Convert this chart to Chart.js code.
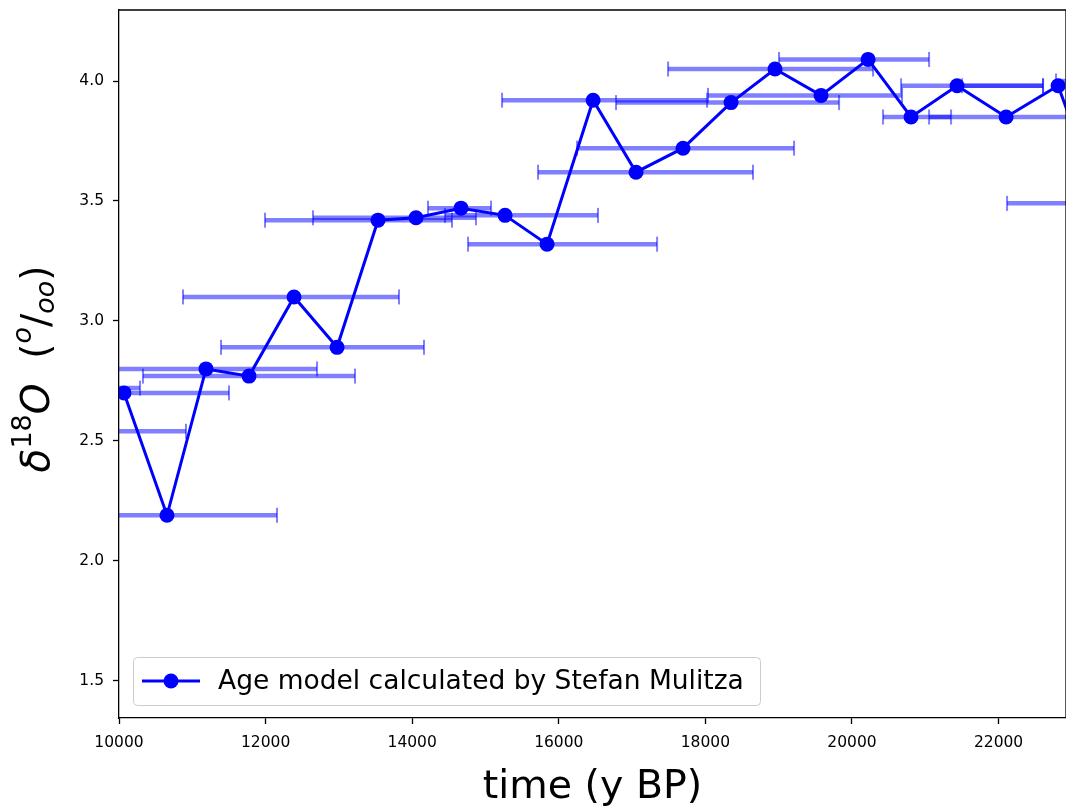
<!DOCTYPE html>
<html>
<head>
<meta charset="utf-8">
<script src="https://cdn.jsdelivr.net/npm/chart.js@4.4.0/dist/chart.umd.min.js"></script>
<style>
  html, body { margin: 0; padding: 0; background: #fff; overflow: hidden; }
  #wrap { width: 1066px; height: 808px; }
</style>
</head>
<body>
<div id="wrap"><canvas id="myChart" width="1066" height="808"></canvas></div>
<script>
// age model (y BP) and d18O of each sample
const ages = [10068, 10655, 11187, 11774, 12388, 12975, 13534, 14052, 14666, 15267,
  15840, 16468, 17054, 17695, 18350, 18950, 19578, 20220, 20806, 21434, 22103, 22812, 23400];
const d18O = [2.70, 2.19, 2.80, 2.77, 3.10, 2.89, 3.42, 3.43, 3.47, 3.44,
  3.32, 3.92, 3.62, 3.72, 3.91, 4.05, 3.94, 4.09, 3.85, 3.98, 3.85, 3.98, 3.49];

// horizontal age-uncertainty bars
const barY  = [2.80, 2.77, 2.72, 2.70, 2.54, 2.19, 3.10, 2.89, 3.42, 3.43, 3.47, 3.44, 3.32,
  3.92, 3.62, 3.72, 3.91, 4.05, 3.94, 4.09, 3.85, 3.98, 3.85, 3.98, 3.49, 4.00];
const barLo = [9100, 10327, 9300, 9200, 9000, 8900, 10873, 11392, 11992, 12647, 14216, 14448, 14762,
  15226, 15717, 16249, 16781, 17491, 18036, 19005, 20424, 20670, 21052, 21502, 22116, 22784];
const barHi = [12702, 13220, 10287, 11501, 10914, 12156, 13820, 14161, 14543, 14871, 15076, 16535, 17341,
  18023, 18650, 19210, 19824, 20288, 20683, 21052, 21352, 22607, 23700, 22607, 24000, 24100];

const xTicks = [10000, 12000, 14000, 16000, 18000, 20000, 22000];
const yTicks = [1.5, 2.0, 2.5, 3.0, 3.5, 4.0];

const seriesLabel = "Age model calculated by Stefan Mulitza";
const mainColor = "#0000ff";
const barColor = "rgba(0, 0, 255, 0.5)";

const datasets = [];
for (let i = 0; i < barY.length; i++) {
  datasets.push({
    label: "err" + i,
    data: [{ x: barLo[i], y: barY[i] }, { x: barHi[i], y: barY[i] }],
    borderColor: barColor,
    backgroundColor: barColor,
    borderWidth: 4.5,
    pointStyle: "line",
    pointRotation: 90,
    pointRadius: 7.5,
    pointBorderWidth: 2,
    pointHoverRadius: 7.5,
    clip: 0,
    order: 2,
  });
}
datasets.push({
  label: seriesLabel,
  data: ages.map((a, i) => ({ x: a, y: d18O[i] })),
  borderColor: mainColor,
  backgroundColor: mainColor,
  borderWidth: 3,
  pointRadius: 7.5,
  pointBorderWidth: 0,
  pointHoverRadius: 7.5,
  clip: 0,
  order: 1,
});

// frame on top of the plot, legend box, y-axis label with super/subscripts
const decorations = {
  id: "decorations",
  afterDraw(chart) {
    const ctx = chart.ctx;
    const a = chart.chartArea;
    ctx.save();
    ctx.strokeStyle = "#000";
    ctx.lineWidth = 1.3;
    ctx.beginPath();
    ctx.moveTo(a.left, a.top);
    ctx.lineTo(a.right, a.top);
    ctx.lineTo(a.right, a.bottom);
    ctx.stroke();

    // legend
    const lx = a.left + 14, ly = a.bottom - 61, lw = 627, lh = 48;
    ctx.fillStyle = "rgba(255,255,255,0.8)";
    ctx.strokeStyle = "#cccccc";
    ctx.lineWidth = 1;
    ctx.beginPath();
    ctx.roundRect(lx + 0.5, ly + 0.5, lw, lh, 4);
    ctx.fill();
    ctx.stroke();
    const cy = ly + lh / 2;
    ctx.strokeStyle = mainColor;
    ctx.lineWidth = 3;
    ctx.beginPath();
    ctx.moveTo(lx + 9, cy);
    ctx.lineTo(lx + 67, cy);
    ctx.stroke();
    ctx.fillStyle = mainColor;
    ctx.beginPath();
    ctx.arc(lx + 38, cy, 7.5, 0, Math.PI * 2);
    ctx.fill();
    ctx.fillStyle = "#000";
    ctx.font = "26.5px 'DejaVu Sans'";
    ctx.textBaseline = "middle";
    ctx.fillText(seriesLabel, lx + 85, cy + 1);

    // y label
    const parts = [
      { t: "δ", size: 39, style: "italic", dy: 0 },
      { t: "18", size: 27, style: "normal", dy: -15 },
      { t: "O", size: 39, style: "italic", dy: 0 },
      { t: "  (", size: 39, style: "normal", dy: 0 },
      { t: "o", size: 27, style: "italic", dy: -15 },
      { t: "/", size: 39, style: "normal", dy: 0 },
      { t: "oo", size: 27, style: "italic", dy: 8 },
      { t: ")", size: 39, style: "normal", dy: 0 },
    ];
    let total = 0;
    parts.forEach(p => {
      ctx.font = p.style + " " + p.size + "px 'DejaVu Sans'";
      p.w = ctx.measureText(p.t).width;
      total += p.w;
    });
    ctx.translate(39, (a.top + a.bottom) / 2 + 5);
    ctx.rotate(-Math.PI / 2);
    ctx.textBaseline = "middle";
    ctx.fillStyle = "#000";
    let x = -total / 2;
    parts.forEach(p => {
      ctx.font = p.style + " " + p.size + "px 'DejaVu Sans'";
      ctx.fillText(p.t, x, p.dy);
      x += p.w;
    });
    ctx.restore();
  },
};

const tickFont = { family: "'DejaVu Sans'", size: 15.5 };

const myChart = new Chart(document.getElementById("myChart"), {
  type: "line",
  data: { datasets: datasets },
  options: {
    responsive: false,
    animation: false,
    layout: { autoPadding: false, padding: { top: 10, right: 0, bottom: 0, left: 0 } },
    plugins: {
      legend: { display: false },
      tooltip: { enabled: false },
    },
    scales: {
      x: {
        type: "linear",
        min: 10000,
        max: 22920,
        afterBuildTicks: axis => { axis.ticks = xTicks.map(v => ({ value: v })); },
        afterFit: s => { s.height = 90; s.paddingLeft = 0; s.paddingRight = 0; },
        ticks: { font: tickFont, color: "#000", padding: 10, maxRotation: 0, autoSkip: false,
          callback: v => String(v) },
        grid: { drawOnChartArea: false, tickLength: 6, tickColor: "#000", tickWidth: 1.3 },
        border: { color: "#000", width: 1.3 },
        title: { display: true, text: "time (y BP)", color: "#000",
          font: { family: "'DejaVu Sans'", size: 39.5, lineHeight: 1.05 }, padding: { top: 0, bottom: 0 } },
      },
      y: {
        type: "linear",
        min: 1.345,
        max: 4.296,
        afterBuildTicks: axis => { axis.ticks = yTicks.map(v => ({ value: v })); },
        afterFit: s => { s.width = 119; s.paddingTop = 0; s.paddingBottom = 0; },
        ticks: { font: tickFont, color: "#000", padding: 9, callback: v => v.toFixed(1) },
        grid: { drawOnChartArea: false, tickLength: 6, tickColor: "#000", tickWidth: 1.3 },
        border: { color: "#000", width: 1.3 },
      },
    },
  },
  plugins: [decorations],
});
</script>
</body>
</html>
